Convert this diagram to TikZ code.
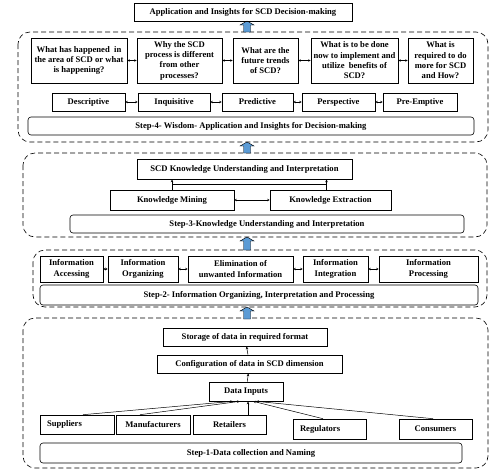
\documentclass[tikz,border=0pt]{standalone}
\usepackage{fontspec}
\setmainfont{Liberation Serif}
\usetikzlibrary{arrows.meta}
\definecolor{arrowblue}{RGB}{91,155,213}
% block arrow: x, bottom y, top y
\newcommand{\blockup}[3]{%
  \filldraw[fill=arrowblue,draw=black,line width=.4pt,solid] (#1-3.5,#2) -- (#1-3.5,#3+4) -- (#1-7,#3+4) -- (#1,#3) -- (#1+7,#3+4) -- (#1+3.5,#3+4) -- (#1+3.5,#2) -- cycle;}
\begin{document}
\begin{tikzpicture}[x=1pt,y=-1pt,
    font=\fontsize{8.6}{10.3}\selectfont\bfseries,
    box/.style={draw, line width=.6pt, align=center, inner sep=1pt},
    group/.style={draw, dash pattern=on 5pt off 3pt, rounded corners=12pt, line width=.6pt},
    bar/.style={box, rounded corners=3pt},
    arr/.style={-{Stealth[length=3pt,width=2.5pt]}, line width=.5pt},
    dblarr/.style={{Stealth[length=2.5pt,width=2.5pt]}-{Stealth[length=2.5pt,width=2.5pt]}, line width=.5pt}]
  \useasboundingbox (0,0) rectangle (500,474);

  \draw[group] (18,32) rectangle (488,142);
  \draw[group] (23,153) rectangle (487,237);
  \draw[group] (33,250) rectangle (487,307);
  \draw[group] (23,318) rectangle (488,468);

  \blockup{247}{32}{21}
  \blockup{247}{153}{142}
  \blockup{247}{250}{237}
  \blockup{247}{319}{307}

  % step 4
  \node[box, minimum width=218pt, minimum height=18pt] (app) at (243,12) {Application and Insights for SCD Decision-making};
  \node[box, minimum width=96pt, minimum height=45pt] (q1) at (79,60.5) {What has happened\ \ in\\the area of SCD or what\\is happening?};
  \node[box, minimum width=85pt, minimum height=45pt] (q2) at (179.5,60.5) {Why the SCD\\process is different\\from other\\processes?};
  \node[box, minimum width=65pt, minimum height=45pt] (q3) at (265.5,60.5) {What are the\\future trends\\of SCD?};
  \node[box, minimum width=87pt, minimum height=45pt] (q4) at (354.5,60.5) {What is to be done\\now to implement and\\utilize\ \ benefits of\\SCD?};
  \node[box, minimum width=65pt, minimum height=45pt] (q5) at (440.5,60.5) {What is\\required to do\\more for SCD\\and How?};
  \node[box, minimum width=73pt, minimum height=18pt] (desc) at (88.5,102) {Descriptive};
  \node[box, minimum width=72pt, minimum height=18pt] (inq) at (174,102) {Inquisitive};
  \node[box, minimum width=71pt, minimum height=18pt] (pred) at (257.5,102) {Predictive};
  \node[box, minimum width=73pt, minimum height=18pt] (persp) at (338.5,102) {Perspective};
  \node[box, minimum width=74pt, minimum height=18pt] (preemp) at (420,102) {Pre-Emptive};
  \node[bar, minimum width=446pt, minimum height=18pt] (step4) at (251,126) {Step-4- Wisdom- Application and Insights for Decision-making};
  \foreach \a/\b in {q1/q2,q2/q3,q3/q4,q4/q5,desc/inq,inq/pred,pred/persp,persp/preemp}
    \draw[dblarr] (\a) -- (\b);

  % step 3
  \node[box, minimum width=215pt, minimum height=20pt] (scd) at (244.5,169) {SCD Knowledge Understanding and Interpretation};
  \node[box, minimum width=124pt, minimum height=20pt] (mining) at (172,200) {Knowledge Mining};
  \node[box, minimum width=121pt, minimum height=20pt] (extract) at (330.5,200) {Knowledge Extraction};
  \node[bar, minimum width=394pt, minimum height=18pt] (step3) at (267,224) {Step-3-Knowledge Understanding and Interpretation};
  \draw[dblarr] (mining) -- (extract);
  \draw[arr] (mining.north) -- (mining.north |- scd.south);
  \draw[arr] ([xshift=-4pt]extract.north) -- ([xshift=-4pt]extract.north |- scd.south);
  \draw[line width=.5pt] ([yshift=5pt]mining.north) -- ([xshift=-4pt,yshift=5pt]extract.north);

  % step 2
  \node[box, minimum width=63pt, minimum height=26pt] (access) at (71.5,269) {Information\\Accessing};
  \node[box, minimum width=70pt, minimum height=26pt] (organize) at (143,269) {Information\\Organizing};
  \node[box, minimum width=105pt, minimum height=26pt] (elim) at (240.5,269) {Elimination of\\unwanted Information};
  \node[box, minimum width=65pt, minimum height=26pt] (integr) at (335.5,269) {Information\\Integration};
  \node[box, minimum width=99pt, minimum height=26pt] (process) at (428.5,269) {Information\\Processing};
  \node[bar, minimum width=438pt, minimum height=20pt] (step2) at (259,295) {Step-2- Information Organizing, Interpretation and Processing};
  \foreach \a/\b in {access/organize,organize/elim,elim/integr,integr/process}
    \draw[dblarr] (\a) -- (\b);

  % step 1
  \node[box, minimum width=164pt, minimum height=18pt] (storage) at (245,337) {Storage of data in required format};
  \node[box, minimum width=185pt, minimum height=18pt] (config) at (249.5,364) {Configuration of data in SCD dimension};
  \node[box, minimum width=74pt, minimum height=19pt] (din) at (246,391.5) {Data Inputs};
  \node[box, minimum width=74pt, minimum height=19pt, text width=60pt, align=left] (sup) at (77,424.5) {Suppliers};
  \node[box, minimum width=74pt, minimum height=19pt] (man) at (153,424.5) {Manufacturers};
  \node[box, minimum width=73pt, minimum height=19pt] (ret) at (229.5,424.5) {Retailers};
  \node[box, minimum width=73pt, minimum height=20pt, text width=59pt, align=left] (reg) at (329.5,429) {Regulators};
  \node[box, minimum width=73pt, minimum height=20pt] (con) at (435.5,429) {Consumers};
  \node[bar, minimum width=422pt, minimum height=20pt] (step1) at (251,453) {Step-1-Data collection and Naming};
  \draw[arr] (din) -- (config);
  \draw[arr] (config) -- (storage);
  \foreach \s/\sx/\ex in {sup/6/-13,man/-13/-6,ret/18.5/2,reg/-6.5/7,con/-2.5/10}
    \draw[arr] ([xshift=\sx pt]\s.north) -- ([xshift=\ex pt]din.south);

\end{tikzpicture}
\end{document}
